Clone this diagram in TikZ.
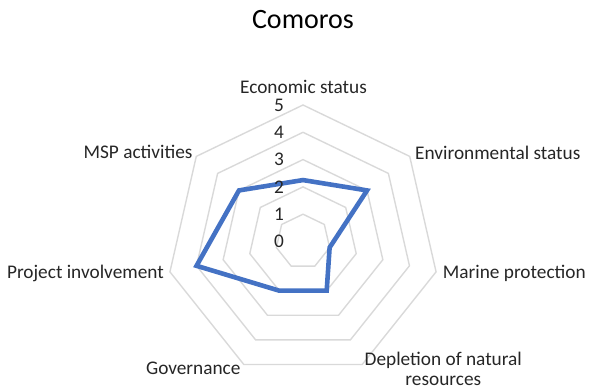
\documentclass[tikz,border=0pt]{standalone}
\usepackage{fontspec}
\setmainfont{Carlito}
\usepackage{xcolor}
\definecolor{gridgray}{HTML}{D9D9D9}
\definecolor{seriesblue}{HTML}{4472C4}
\usetikzlibrary{positioning}

\begin{document}
\begin{tikzpicture}[x=1pt,y=1pt,
  gridline/.style={draw=gridgray,line width=1.4pt,line join=miter},
  seriesline/.style={draw=seriesblue,line width=4.6pt,line join=miter},
  axislabel/.style={inner sep=0pt,font=\fontsize{19.3}{20.5}\selectfont,text=black!85},
  ticklabel/.style={inner sep=0pt,font=\fontsize{19.3}{21}\selectfont,text=black!85,anchor=east}]
  \useasboundingbox (0,0) rectangle (589,390);

  \node[inner sep=0pt,font=\fontsize{28}{32}\selectfont,anchor=base] (title) at (303,361) {Comoros};

  \begin{scope}[shift={(303,148.5)}]
    % grid
    \foreach \r in {1,...,5}
      \draw[gridline] (90:27.3*\r) \foreach \i in {1,...,6}{ -- (90-\i*360/7:27.3*\r)} -- cycle;

    % data points
    \coordinate (econ) at (90:2.25*27.3);
    \coordinate (envir) at (90-360/7:3*27.3);
    \coordinate (marine) at (90-2*360/7:1*27.3);
    \coordinate (deplet) at (90-3*360/7:2*27.3);
    \coordinate (govern) at (90-4*360/7:2*27.3);
    \coordinate (project) at (90-5*360/7:4*27.3);
    \coordinate (msp) at (90-6*360/7:3*27.3);
    \draw[seriesline] (econ) -- (envir) -- (marine) -- (deplet) -- (govern) -- (project) -- (msp) -- cycle;

    \foreach \k in {0,...,5}
      \node[ticklabel] (tick\k) at (-19,27.3*\k) {\k};
  \end{scope}

  \node[axislabel,anchor=base] (econlabel) at (303.5,296) {Economic status};
  \node[axislabel,anchor=base west] (envirlabel) at (415,230.7) {Environmental status};
  \node[axislabel,anchor=base west] (marinelabel) at (442.7,111.3) {Marine protection};
  \node[axislabel,anchor=base,align=center] (depletlabel) at (443.3,4) {Depletion of natural\\resources};
  \node[axislabel,anchor=base east] (governlabel) at (240.7,15) {Governance};
  \node[axislabel,anchor=base east] (projectlabel) at (164,111.7) {Project involvement};
  \node[axislabel,anchor=base east] (msplabel) at (192.7,231.7) {MSP activities};
\end{tikzpicture}
\end{document}
